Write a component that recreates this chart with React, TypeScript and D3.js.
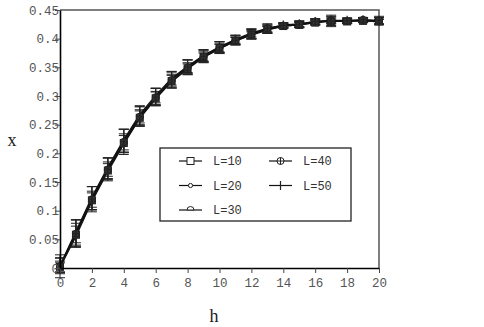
import { useRef, useEffect } from 'react';
import * as d3 from 'd3';

const H = d3.range(0, 21);
const L10 = [0.002, 0.058, 0.118, 0.170, 0.218, 0.262, 0.296, 0.326, 0.348, 0.368, 0.383, 0.396, 0.407, 0.416, 0.422, 0.424, 0.428, 0.430, 0.430, 0.431, 0.430];
const L20 = [0.004, 0.062, 0.122, 0.174, 0.222, 0.266, 0.299, 0.329, 0.351, 0.370, 0.385, 0.398, 0.408, 0.417, 0.423, 0.425, 0.429, 0.431, 0.431, 0.432, 0.431];
const L30 = [0.001, 0.055, 0.116, 0.168, 0.216, 0.261, 0.295, 0.325, 0.347, 0.367, 0.382, 0.396, 0.406, 0.415, 0.422, 0.424, 0.428, 0.432, 0.430, 0.432, 0.429];
const L40 = [0.003, 0.060, 0.120, 0.172, 0.220, 0.264, 0.298, 0.328, 0.350, 0.369, 0.385, 0.397, 0.408, 0.418, 0.423, 0.425, 0.430, 0.431, 0.431, 0.433, 0.432];
const L50 = [0.005, 0.064, 0.124, 0.176, 0.224, 0.268, 0.301, 0.331, 0.352, 0.371, 0.386, 0.399, 0.410, 0.418, 0.424, 0.426, 0.430, 0.432, 0.432, 0.433, 0.431];
const ERR10 = [0.010, 0.020, 0.016, 0.015, 0.016, 0.014, 0.012, 0.012, 0.010, 0.009, 0.008, 0.007, 0.007, 0.006, 0.004, 0.004, 0.004, 0.004, 0.003, 0.003, 0.004];
const ERR20 = [0.014, 0.022, 0.020, 0.018, 0.020, 0.016, 0.014, 0.013, 0.012, 0.010, 0.009, 0.008, 0.008, 0.007, 0.004, 0.005, 0.005, 0.008, 0.004, 0.004, 0.006];
const ERR30 = [0.008, 0.018, 0.015, 0.014, 0.015, 0.013, 0.012, 0.011, 0.009, 0.008, 0.008, 0.006, 0.006, 0.006, 0.003, 0.004, 0.004, 0.004, 0.003, 0.003, 0.005];
const ERR40 = [0.020, 0.024, 0.022, 0.020, 0.022, 0.017, 0.015, 0.014, 0.013, 0.011, 0.010, 0.008, 0.009, 0.008, 0.004, 0.006, 0.005, 0.010, 0.005, 0.004, 0.007];
const ERR50 = [0.012, 0.020, 0.018, 0.016, 0.018, 0.015, 0.013, 0.012, 0.011, 0.010, 0.009, 0.007, 0.007, 0.006, 0.004, 0.005, 0.004, 0.006, 0.004, 0.004, 0.006];
const SERIES_NAMES = ['L=10', 'L=20', 'L=30', 'L=40', 'L=50'];
const SERIES_VALUES = [L10, L20, L30, L40, L50];
const SERIES_ERRORS = [ERR10, ERR20, ERR30, ERR40, ERR50];
const MARKERS = ['square', 'dot', 'arc', 'circleplus', 'bar'];
const X_TICKS = d3.range(0, 21, 2);
const Y_TICKS = [0, 0.05, 0.1, 0.15, 0.2, 0.25, 0.3, 0.35, 0.4, 0.45];

const MONO = '"Liberation Mono", "DejaVu Sans Mono", monospace';

// open glyph (legend) or filled blob (plot)
function drawMarker(g: any, type: string, cx: number, cy: number, s: number, fill: string) {
  const stroke = '#222';
  if (type === 'square') {
    g.append('rect').attr('x', cx - s).attr('y', cy - s).attr('width', 2 * s).attr('height', 2 * s)
      .attr('fill', fill).attr('stroke', stroke).attr('stroke-width', 1);
  } else if (type === 'dot') {
    g.append('circle').attr('cx', cx).attr('cy', cy).attr('r', s * 0.6)
      .attr('fill', fill).attr('stroke', stroke).attr('stroke-width', 1);
  } else if (type === 'arc') {
    const arc = d3.arc()({ innerRadius: 0, outerRadius: s, startAngle: -Math.PI / 2, endAngle: Math.PI / 2 } as any);
    g.append('path').attr('d', arc).attr('transform', `translate(${cx},${cy})`)
      .attr('fill', fill).attr('stroke', stroke).attr('stroke-width', 1);
  } else if (type === 'circleplus') {
    g.append('circle').attr('cx', cx).attr('cy', cy).attr('r', s)
      .attr('fill', fill).attr('stroke', stroke).attr('stroke-width', 1);
    g.append('line').attr('x1', cx).attr('x2', cx).attr('y1', cy - s).attr('y2', cy + s).attr('stroke', stroke);
    g.append('line').attr('x1', cx - s).attr('x2', cx + s).attr('y1', cy).attr('y2', cy).attr('stroke', stroke);
  } else if (type === 'bar') {
    g.append('line').attr('x1', cx).attr('x2', cx).attr('y1', cy - s - 1).attr('y2', cy + s + 1)
      .attr('stroke', stroke).attr('stroke-width', 1.2);
  }
}

function Chart() {
  const svgRef = useRef<SVGSVGElement>(null);

  useEffect(() => {
    const svg = d3.select(svgRef.current);
    svg.selectAll('*').remove();

    const x = d3.scaleLinear().domain([0, 20]).range([60, 379]);
    const y = d3.scaleLinear().domain([0, 0.45]).range([268, 10]);

    svg.append('rect').attr('width', 484).attr('height', 327).attr('fill', 'white');

    // frame top/right
    svg.append('path')
      .attr('d', `M${x(0)},${y(0.45)}H${x(20)}V${y(0)}`)
      .attr('fill', 'none').attr('stroke', '#555').attr('stroke-width', 1.5);

    // lines + error bars
    SERIES_VALUES.forEach((vals, si) => {
      const g = svg.append('g');
      const line = d3.line<number>().x((_, i) => x(H[i])).y(d => y(d));
      g.append('path').attr('d', line(vals)).attr('fill', 'none')
        .attr('stroke', '#111').attr('stroke-width', 1.2);
      vals.forEach((v, i) => {
        const e = SERIES_ERRORS[si][i];
        const cx = x(H[i]);
        const y1 = y(v - e), y2 = y(v + e);
        g.append('line').attr('x1', cx).attr('x2', cx).attr('y1', y1).attr('y2', y2).attr('stroke', '#222');
        g.append('line').attr('x1', cx - 5).attr('x2', cx + 5).attr('y1', y1).attr('y2', y1).attr('stroke', '#222');
        g.append('line').attr('x1', cx - 5).attr('x2', cx + 5).attr('y1', y2).attr('y2', y2).attr('stroke', '#222');
      });
    });
    SERIES_VALUES.forEach((vals, si) => {
      const g = svg.append('g');
      vals.forEach((v, i) => drawMarker(g, MARKERS[si], x(H[i]), y(v), 3.5, '#333'));
    });

    // axes
    const xAxis = svg.append('g').attr('transform', `translate(0,${y(0)})`)
      .call(d3.axisBottom(x).tickValues(X_TICKS).tickSize(5).tickPadding(5).tickSizeOuter(0));
    const yAxis = svg.append('g').attr('transform', `translate(${x(0)},0)`)
      .call(d3.axisLeft(y).tickValues(Y_TICKS).tickSize(5).tickPadding(2).tickFormat(d => String(+d)).tickSizeOuter(0));
    [xAxis, yAxis].forEach(a => {
      a.select('.domain').attr('stroke', '#000').attr('stroke-width', 1.6);
      a.selectAll('.tick line').attr('stroke', '#444');
      a.selectAll('text').attr('font-family', MONO).attr('font-size', 12.5).attr('fill', '#555');
    });
    yAxis.selectAll('.tick text').attr('x', -1);

    // axis labels
    svg.append('text').attr('x', 12).attr('y', 146).attr('text-anchor', 'middle')
      .attr('font-family', '"Liberation Serif", serif').attr('font-size', 18).attr('fill', '#222').text('x');
    svg.append('text').attr('x', 214).attr('y', 322).attr('text-anchor', 'middle')
      .attr('font-family', '"Liberation Serif", serif').attr('font-size', 18).attr('fill', '#222').text('h');

    // legend
    const lg = svg.append('g');
    lg.append('rect').attr('x', 160).attr('y', 148).attr('width', 191).attr('height', 73)
      .attr('fill', 'white').attr('stroke', '#222').attr('stroke-width', 1.3);
    SERIES_NAMES.forEach((name, i) => {
      const col = i < 3 ? 0 : 1;
      const row = i < 3 ? i : i - 3;
      const lx = col === 0 ? 179 : 269;
      const ly = 161 + row * 24.5;
      lg.append('line').attr('x1', lx).attr('x2', lx + 23).attr('y1', ly).attr('y2', ly)
        .attr('stroke', '#111').attr('stroke-width', 1.2);
      drawMarker(lg, MARKERS[i], lx + 11.5, ly, 3.5, 'white');
      lg.append('text').attr('x', lx + 34).attr('y', ly + 4).attr('font-family', MONO)
        .attr('font-size', 12).attr('fill', '#333').text(name);
    });
  }, []);

  return <svg ref={svgRef} width={484} height={327} style={{ display: 'block' }}></svg>;
}

export default function App() {
  return (
    <div style={{ position: 'absolute', left: 0, top: 0 }}>
      <Chart />
    </div>
  );
}
